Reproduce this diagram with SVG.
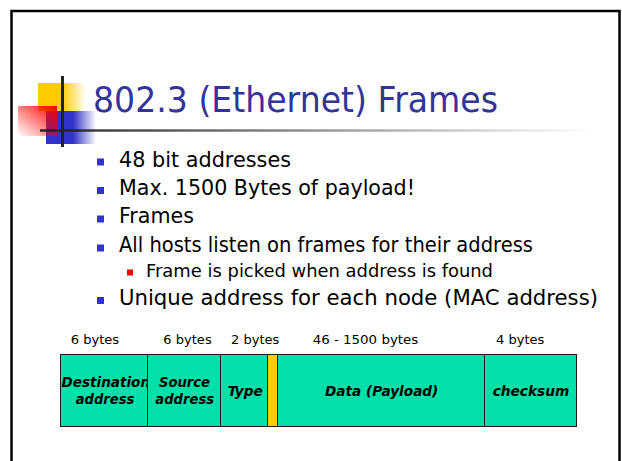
<svg xmlns="http://www.w3.org/2000/svg" width="622" height="461" viewBox="0 0 622 461">
<defs>
<style>
.title{font-family:"DejaVu Sans",Verdana,sans-serif;font-size:36px;fill:#333399}
.body{font-family:"DejaVu Sans",Verdana,sans-serif;font-size:20.5px;fill:#000}
.sub{font-family:"DejaVu Sans",Verdana,sans-serif;font-size:18px;fill:#000}
.hdr{font-family:"DejaVu Sans",Verdana,sans-serif;font-size:13px;fill:#000}
.cell{fill:#00E0A8;stroke:#1a1a1a;stroke-width:1}
.lbl{font-family:"DejaVu Sans",Verdana,sans-serif;font-size:13.5px;font-weight:bold;font-style:italic;fill:#000;text-anchor:middle}
.bul{fill:#3333CC}
</style>
<linearGradient id="gy" x1="0" y1="0" x2="1" y2="0">
<stop offset="0" stop-color="#FFCC00"/><stop offset="0.5" stop-color="#FFCC00"/><stop offset="1" stop-color="#FFCC00" stop-opacity="0"/>
</linearGradient>
<linearGradient id="gb" x1="0" y1="0" x2="1" y2="0">
<stop offset="0" stop-color="#3333CC"/><stop offset="0.54" stop-color="#3333CC"/><stop offset="1" stop-color="#3333CC" stop-opacity="0"/>
</linearGradient>
<linearGradient id="gr" x1="1" y1="0" x2="0" y2="1">
<stop offset="0" stop-color="#FF0000"/><stop offset="1" stop-color="#FF0000" stop-opacity="0"/>
</linearGradient>
<linearGradient id="gl" x1="40" y1="0" x2="592" y2="0" gradientUnits="userSpaceOnUse">
<stop offset="0" stop-color="#222"/><stop offset="1" stop-color="#222" stop-opacity="0"/>
</linearGradient>
<clipPath id="cDest"><rect x="60.5" y="354.5" width="87" height="72"/></clipPath>
</defs>

<path d="M11.5,470 V11 H619.5 V470" fill="none" stroke="#000" stroke-width="2.5"/>

<g id="logo">
<rect x="38" y="83" width="48" height="28" fill="url(#gy)"/>
<rect x="46" y="111" width="50" height="33" fill="url(#gb)"/>
<rect x="18" y="106" width="39" height="30" fill="url(#gr)"/>
<rect x="40" y="129.3" width="552" height="2.4" fill="url(#gl)"/>
<rect x="61" y="76" width="3" height="71" fill="#222"/>
</g>

<g id="title">
<text class="title" x="93" y="111.5" textLength="405" lengthAdjust="spacingAndGlyphs">802.3 (Ethernet) Frames</text>
</g>

<g id="bullets">
<rect class="bul" x="97" y="158.5" width="7" height="7"/>
<text class="body" x="119" y="166.5" textLength="172" lengthAdjust="spacingAndGlyphs">48 bit addresses</text>
<rect class="bul" x="97" y="187" width="7" height="7"/>
<text class="body" x="119" y="195" textLength="296" lengthAdjust="spacingAndGlyphs">Max. 1500 Bytes of payload!</text>
<rect class="bul" x="97" y="215.5" width="7" height="7"/>
<text class="body" x="119" y="223.3" textLength="75" lengthAdjust="spacingAndGlyphs">Frames</text>
<rect class="bul" x="97" y="244.5" width="7" height="7"/>
<text class="body" x="119" y="252.3" textLength="414" lengthAdjust="spacingAndGlyphs">All hosts listen on frames for their address</text>
<rect x="127" y="269.5" width="6" height="6" fill="#FF0000"/>
<text class="sub" x="146" y="277.3" textLength="347" lengthAdjust="spacingAndGlyphs">Frame is picked when address is found</text>
<rect class="bul" x="97" y="297" width="7" height="7"/>
<text class="body" x="119" y="305" textLength="479" lengthAdjust="spacingAndGlyphs">Unique address for each node (MAC address)</text>
</g>

<g id="headers">
<text class="hdr" x="70.7" y="344" textLength="48.5" lengthAdjust="spacingAndGlyphs">6 bytes</text>
<text class="hdr" x="163.3" y="344" textLength="48.4" lengthAdjust="spacingAndGlyphs">6 bytes</text>
<text class="hdr" x="231" y="344" textLength="48.3" lengthAdjust="spacingAndGlyphs">2 bytes</text>
<text class="hdr" x="312.7" y="344" textLength="105.6" lengthAdjust="spacingAndGlyphs">46 - 1500 bytes</text>
<text class="hdr" x="496" y="344" textLength="48.3" lengthAdjust="spacingAndGlyphs">4 bytes</text>
</g>

<g id="dest">
<rect class="cell" x="60.5" y="354.5" width="87" height="72"/>
<g clip-path="url(#cDest)">
<text class="lbl" x="105.8" y="386.7" textLength="88.5" lengthAdjust="spacingAndGlyphs">Destination</text>
</g>
<text class="lbl" x="105" y="404" textLength="58.6" lengthAdjust="spacingAndGlyphs">address</text>
</g>
<g id="source">
<rect class="cell" x="147.5" y="354.5" width="73" height="72"/>
<text class="lbl" x="184.5" y="386.7" textLength="51" lengthAdjust="spacingAndGlyphs">Source</text>
<text class="lbl" x="184.7" y="404" textLength="58.7" lengthAdjust="spacingAndGlyphs">address</text>
</g>
<g id="type">
<rect class="cell" x="220.5" y="354.5" width="47" height="72"/>
<text class="lbl" x="245.2" y="396" textLength="35" lengthAdjust="spacingAndGlyphs">Type</text>
</g>
<g id="pad">
<rect x="267.5" y="354.5" width="10" height="72" fill="#FFCC00" stroke="#1a1a1a" stroke-width="1"/>
</g>
<g id="data">
<rect class="cell" x="277.5" y="354.5" width="207" height="72"/>
<text class="lbl" x="381.7" y="396" textLength="113.3" lengthAdjust="spacingAndGlyphs">Data (Payload)</text>
</g>
<g id="checksum">
<rect class="cell" x="484.5" y="354.5" width="92" height="72"/>
<text class="lbl" x="531" y="396" textLength="76.6" lengthAdjust="spacingAndGlyphs">checksum</text>
</g>
<g id="connectors"/>
</svg>
